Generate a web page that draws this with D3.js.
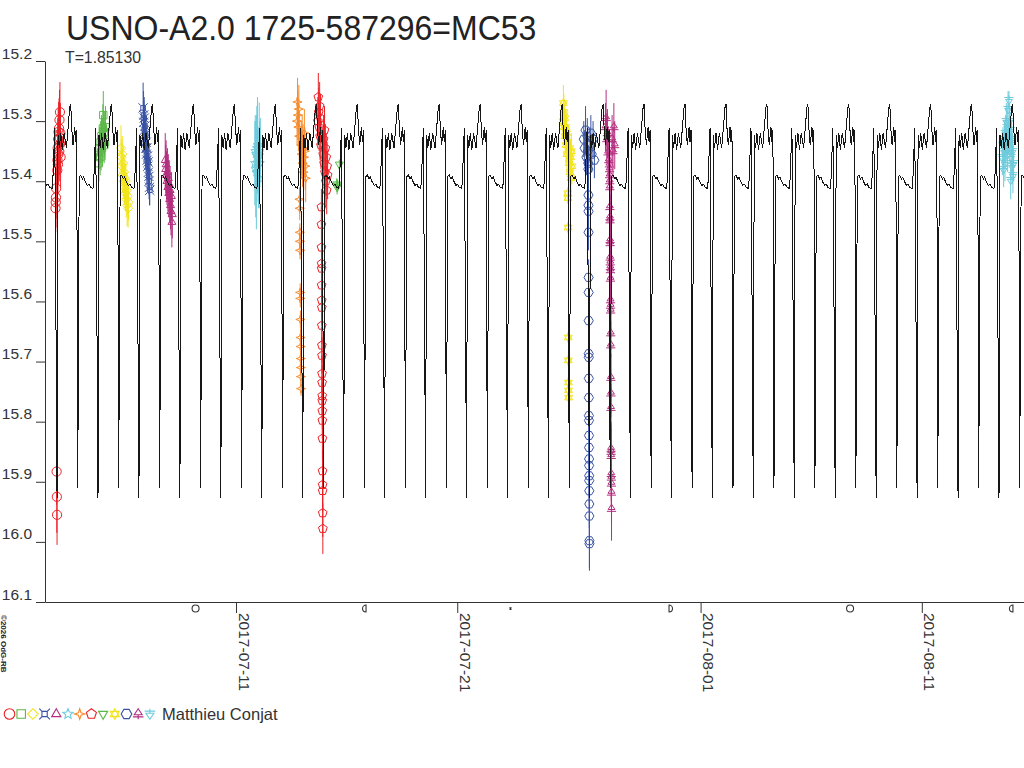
<!DOCTYPE html>
<html>
<head>
<meta charset="utf-8">
<script src="https://cdn.jsdelivr.net/npm/d3@7"></script>
<style>
  body { margin: 0; background: #fff; }
  svg { display: block; font-family: "Liberation Sans", Arial, sans-serif; }
</style>
</head>
<body>
<div id="vis"></div>
<script>
// times are days since 2017-07-01 00:00 UTC
const xDomainDays = [1.365, 45.62];
const yDomain = [15.2, 16.1];
const yTicks = [15.2, 15.3, 15.4, 15.5, 15.6, 15.7, 15.8, 15.9, 16.0, 16.1];
const xTickDates = ['2017-07-11', '2017-07-21', '2017-08-01', '2017-08-11'];

// model light curve, one cycle (phase, mag)
const period = 1.85130;
const curveEpoch = 30.298;
const curvePhase = [0, .024, .056, .098, .122, .146, .171, .207, .244, .285, .317, .354, .407, .451,
  .488, .544, .561, .610, .666, .690, .720, .756, .793, .837, .895, .934, .976];
const curveMag = [15.272, 15.312, 15.340, 15.310, 15.335, 15.315, 15.910, 15.392, 15.390, 15.396,
  15.393, 15.400, 15.407, 15.405, 15.410, 15.412, 15.402, 15.312, 15.927, 15.323, 15.345, 15.320,
  15.348, 15.320, 15.345, 15.312, 15.277];

// observations [t, mag, err], one array per night
const obs01 = [[1.84,15.445,0.058],[1.85,15.435,0.05],[1.86,15.427,0.05],[1.87,15.412,0.05],[1.89,15.883,0.055],
  [1.90,15.925,0.06],[1.91,15.955,0.05],[1.92,15.382,0.05],[1.93,15.365,0.05],[1.94,15.345,0.05],[1.95,15.372,0.05],
  [1.96,15.33,0.05],[1.97,15.355,0.05],[1.98,15.318,0.05],[1.99,15.34,0.05],[2.00,15.312,0.05],[2.01,15.35,0.05],
  [2.02,15.298,0.05],[2.03,15.328,0.05],[2.04,15.285,0.05],[2.05,15.338,0.05],[2.06,15.32,0.05],[2.07,15.36,0.05]];
const obs02 = [[3.80,15.37,0.03],[3.83,15.345,0.035],[3.86,15.36,0.03],[3.88,15.335,0.035],[3.90,15.352,0.03],
  [3.92,15.325,0.035],[3.94,15.345,0.03],[3.96,15.33,0.035],[3.98,15.312,0.04],[4.00,15.29,0.04],[4.02,15.318,0.035],
  [4.04,15.34,0.03],[4.06,15.32,0.035],[4.08,15.335,0.03],[4.10,15.31,0.035]];
const obs03 = [[4.80,15.345,0.038],[4.82,15.36,0.03],[4.84,15.375,0.03],[4.86,15.355,0.03],[4.88,15.39,0.03],
  [4.90,15.37,0.03],[4.92,15.40,0.03],[4.94,15.385,0.03],[4.96,15.41,0.03],[4.98,15.395,0.03],[5.00,15.42,0.03],
  [5.02,15.40,0.03],[5.04,15.43,0.03],[5.06,15.415,0.03],[5.08,15.44,0.035],[5.10,15.425,0.03],[5.12,15.445,0.032],
  [5.14,15.435,0.03]];
const obs04 = [[5.80,15.278,0.042],[5.82,15.29,0.04],[5.83,15.302,0.035],[5.85,15.295,0.035],[5.86,15.315,0.035],
  [5.88,15.308,0.035],[5.89,15.33,0.03],[5.91,15.322,0.03],[5.92,15.345,0.03],[5.94,15.335,0.03],[5.95,15.355,0.03],
  [5.97,15.345,0.03],[5.98,15.365,0.03],[6.00,15.358,0.03],[6.01,15.375,0.03],[6.03,15.368,0.03],[6.04,15.385,0.03],
  [6.06,15.392,0.03],[6.07,15.40,0.03],[6.09,15.41,0.03],[6.10,15.415,0.025]];
const obs05 = [[6.80,15.365,0.045],[6.82,15.38,0.04],[6.84,15.372,0.04],[6.86,15.39,0.04],[6.88,15.40,0.04],
  [6.90,15.385,0.04],[6.92,15.41,0.04],[6.94,15.395,0.04],[6.96,15.42,0.04],[6.98,15.405,0.04],[7.00,15.43,0.04],
  [7.02,15.415,0.04],[7.04,15.44,0.04],[7.06,15.45,0.04],[7.08,15.425,0.04],[7.10,15.468,0.042],[7.12,15.455,0.04]];
const obs06 = [[10.85,15.37,0.07],[10.87,15.35,0.06],[10.89,15.38,0.08],[10.90,15.355,0.05],[10.92,15.385,0.095],
  [10.94,15.345,0.07],[10.96,15.37,0.05],[10.97,15.34,0.08],[10.99,15.375,0.06],[11.00,15.36,0.05],[11.02,15.395,0.05],
  [11.05,15.357,0.088],[11.06,15.35,0.05],[11.08,15.37,0.04],[11.10,15.345,0.05]];
const obs07 = [[12.76,15.30,0.04],[12.78,15.268,0.04],[12.80,15.29,0.04],[12.82,15.31,0.04],[12.84,15.28,0.04],
  [12.86,15.325,0.04],[12.87,15.43,0.02],[12.88,15.445,0.02],[12.885,15.485,0.015],[12.89,15.50,0.015],
  [12.895,15.515,0.015],[12.90,15.585,0.015],[12.905,15.595,0.015],[12.91,15.63,0.015],[12.915,15.66,0.015],
  [12.92,15.675,0.015],[12.925,15.695,0.015],[12.93,15.71,0.015],[12.935,15.725,0.015],[12.94,15.745,0.012],
  [12.95,15.34,0.04],[12.97,15.355,0.04],[12.99,15.33,0.04],[13.01,15.37,0.04],[13.03,15.345,0.04],
  [13.05,15.385,0.04],[13.07,15.36,0.04],[13.09,15.32,0.04],[13.11,15.35,0.04],[13.13,15.375,0.04],[13.15,15.395,0.04]];
const obs08 = [[13.70,15.30,0.04],[13.72,15.26,0.04],[13.74,15.285,0.04],[13.76,15.31,0.04],[13.78,15.275,0.04],
  [13.80,15.325,0.04],[13.82,15.295,0.04],[13.84,15.34,0.04],[13.86,15.443,0.03],[13.862,15.472,0.03],
  [13.865,15.51,0.03],[13.868,15.537,0.03],[13.87,15.545,0.03],[13.872,15.573,0.03],[13.875,15.598,0.03],
  [13.878,15.61,0.03],[13.88,15.64,0.03],[13.883,15.673,0.03],[13.886,15.69,0.03],[13.889,15.72,0.03],
  [13.892,15.735,0.03],[13.895,15.757,0.03],[13.898,15.765,0.03],[13.90,15.782,0.03],[13.903,15.798,0.03],
  [13.906,15.828,0.035],[13.91,15.882,0.035],[13.913,15.905,0.035],[13.916,15.915,0.035],[13.92,15.952,0.04],
  [13.925,15.978,0.042],[13.94,15.355,0.04],[13.96,15.33,0.04],[13.98,15.37,0.04],[14.00,15.315,0.04],
  [14.02,15.385,0.04],[14.04,15.345,0.04],[14.06,15.40,0.04],[14.08,15.36,0.04],[14.10,15.415,0.04],
  [14.12,15.375,0.04],[14.14,15.39,0.04]];
const obs09 = [[14.55,15.405,0.01],[14.57,15.41,0.012],[14.59,15.407,0.01],[14.67,15.372,0.008]];
const obs10 = [[24.78,15.30,0.03],[24.80,15.27,0.03],[24.82,15.285,0.03],[24.84,15.31,0.03],[24.86,15.295,0.03],
  [24.88,15.325,0.03],[24.90,15.31,0.03],[24.92,15.34,0.03],[24.94,15.32,0.03],[24.96,15.355,0.03],[24.98,15.335,0.03],
  [25.00,15.42,0.01],[25.005,15.428,0.01],[25.01,15.477,0.01],[25.015,15.66,0.01],[25.02,15.698,0.01],
  [25.025,15.735,0.01],[25.03,15.748,0.01],[25.035,15.76,0.01],[25.06,15.37,0.03],[25.08,15.345,0.03],
  [25.10,15.385,0.03],[25.12,15.36,0.03],[25.14,15.395,0.03],[25.16,15.35,0.03],[25.18,15.375,0.03]];
const obs11 = [[25.72,15.33,0.03],[25.76,15.345,0.03],[25.80,15.315,0.04],[25.84,15.36,0.03],[25.88,15.325,0.03],
  [25.90,15.35,0.03],[25.92,15.37,0.03],[25.925,15.38,0.03],[25.93,15.423,0.03],[25.932,15.44,0.03],
  [25.934,15.45,0.03],[25.936,15.485,0.03],[25.938,15.56,0.03],[25.94,15.585,0.03],[25.942,15.632,0.03],
  [25.944,15.687,0.03],[25.946,15.693,0.03],[25.948,15.728,0.03],[25.95,15.76,0.03],[25.952,15.79,0.03],
  [25.954,15.798,0.03],[25.956,15.823,0.03],[25.958,15.843,0.03],[25.96,15.862,0.035],[25.962,15.873,0.035],
  [25.964,15.89,0.035],[25.966,15.898,0.035],[25.968,15.915,0.035],[25.97,15.937,0.04],[25.972,15.957,0.04],
  [25.974,15.998,0.045],[25.976,16.003,0.045],[26.00,15.34,0.03],[26.04,15.32,0.03],[26.08,15.355,0.03],
  [26.14,15.33,0.03],[26.20,15.365,0.03]];
const obs12 = [[26.70,15.31,0.04],[26.73,15.295,0.047],[26.76,15.33,0.04],[26.79,15.32,0.04],[26.82,15.352,0.04],
  [26.85,15.365,0.04],[26.88,15.372,0.04],[26.885,15.38,0.04],[26.89,15.39,0.04],[26.893,15.40,0.04],
  [26.896,15.41,0.04],[26.90,15.443,0.04],[26.903,15.46,0.04],[26.906,15.465,0.04],[26.909,15.498,0.04],
  [26.912,15.503,0.04],[26.915,15.527,0.04],[26.918,15.535,0.04],[26.921,15.543,0.04],[26.924,15.548,0.04],
  [26.927,15.562,0.04],[26.93,15.598,0.04],[26.933,15.607,0.04],[26.936,15.615,0.04],[26.939,15.653,0.04],
  [26.942,15.673,0.04],[26.945,15.727,0.04],[26.948,15.753,0.04],[26.951,15.777,0.04],[26.954,15.845,0.045],
  [26.957,15.85,0.045],[26.96,15.857,0.045],[26.963,15.887,0.045],[26.966,15.893,0.045],[26.969,15.903,0.045],
  [26.972,15.918,0.05],[26.975,15.945,0.053],[27.00,15.33,0.04],[27.04,15.35,0.04],[27.08,15.31,0.04],
  [27.12,15.34,0.04]];
const obs13 = [[44.64,15.36,0.03],[44.67,15.34,0.03],[44.70,15.38,0.03],[44.72,15.35,0.03],[44.74,15.33,0.03],
  [44.76,15.37,0.03],[44.78,15.32,0.03],[44.80,15.345,0.03],[44.82,15.30,0.03],[44.84,15.335,0.03],
  [44.86,15.31,0.03],[44.88,15.355,0.03],[44.90,15.28,0.03],[44.92,15.325,0.03],[44.94,15.265,0.015],
  [44.96,15.30,0.03],[44.98,15.34,0.03],[45.00,15.315,0.03],[45.02,15.398,0.032],[45.04,15.36,0.03],
  [45.06,15.33,0.03],[45.08,15.375,0.03],[45.10,15.35,0.03],[45.12,15.39,0.03],[45.15,15.37,0.03]];

const series = [obs01, obs02, obs03, obs04, obs05, obs06, obs07, obs08, obs09, obs10, obs11, obs12, obs13];
const seriesColor = ['#ec2227', '#5bb848', '#f2e51c', '#3953a4', '#b32f7f', '#6dcbdc', '#f68b2c',
  '#ec2227', '#5bb848', '#f2e51c', '#3953a4', '#b32f7f', '#6dcbdc'];
const seriesSymbol = ['circle', 'square', 'diamond', 'currency', 'triangle', 'star5', 'star4',
  'pentagon', 'triangleDown', 'hexagram', 'hexagon', 'tree', 'treeDown'];
const observer = 'Matthieu Conjat';

// moon phases (UTC)
const moonDates = ['2017-07-09T04:07Z', '2017-07-16T19:26Z', '2017-07-23T09:46Z',
  '2017-07-30T15:23Z', '2017-08-07T18:11Z', '2017-08-15T01:15Z'];
const moonPhases = ['full', 'last', 'new', 'first', 'full', 'last'];

const base = Date.UTC(2017, 6, 1);
const day = t => new Date(base + t * 864e5);

const W = 1024, H = 768;
const plot = { left: 45, right: 1024, top: 61, bottom: 602 };

const svg = d3.select('#vis').append('svg').attr('width', W).attr('height', H);

const x = d3.scaleUtc().domain(xDomainDays.map(day)).range([plot.left, plot.right]);
const y = d3.scaleLinear().domain(yDomain).range([plot.top, plot.bottom]);

svg.append('clipPath').attr('id', 'plotClip')
  .append('rect')
  .attr('x', plot.left).attr('y', plot.top - 10)
  .attr('width', plot.right - plot.left).attr('height', plot.bottom - plot.top + 10);

// marker shapes
function polyPath(n, r, rot) {
  const pts = d3.range(n).map(i => {
    const a = (rot + i * 360 / n) * Math.PI / 180;
    return [r * Math.cos(a), r * Math.sin(a)];
  });
  return 'M' + pts.map(p => p[0].toFixed(2) + ',' + p[1].toFixed(2)).join('L') + 'Z';
}
function starPath(n, r1, r2, rot) {
  const pts = d3.range(n * 2).map(i => {
    const a = (rot + i * 180 / n) * Math.PI / 180;
    const r = i % 2 ? r2 : r1;
    return [r * Math.cos(a), r * Math.sin(a)];
  });
  return 'M' + pts.map(p => p[0].toFixed(2) + ',' + p[1].toFixed(2)).join('L') + 'Z';
}
const shapes = {
  circle: r => `M${-r},0a${r},${r} 0 1,0 ${2 * r},0a${r},${r} 0 1,0 ${-2 * r},0Z`,
  square: r => { const s = r * 0.8; return `M${-s},${-s}H${s}V${s}H${-s}Z`; },
  diamond: r => `M0,${-r}L${r},0L0,${r}L${-r},0Z`,
  currency: r => {
    const s = r * 0.5;
    return `M${-s},${-s}H${s}V${s}H${-s}Z` +
      `M${-s},${-s}L${-r},${-r}M${s},${-s}L${r},${-r}M${s},${s}L${r},${r}M${-s},${s}L${-r},${r}`;
  },
  triangle: r => polyPath(3, r, -90),
  star5: r => starPath(5, r, r * 0.45, -90),
  star4: r => starPath(4, r, r * 0.35, -90),
  pentagon: r => polyPath(5, r, -90),
  triangleDown: r => polyPath(3, r, 90),
  hexagram: r => polyPath(3, r, -90) + polyPath(3, r, 90),
  hexagon: r => polyPath(6, r, 0),
  tree: r => `M0,${-r}L${0.75 * r},${0.15 * r}H${-0.75 * r}Z` +
    `M${-r},${0.55 * r}H${r}M0,${0.15 * r}V${r}`,
  treeDown: r => `M0,${r}L${0.75 * r},${-0.15 * r}H${-0.75 * r}Z` +
    `M${-r},${-0.55 * r}H${r}M0,${-0.15 * r}V${-r}`
};

// observations
const $obs = svg.append('g').attr('clip-path', 'url(#plotClip)').attr('fill', 'none');
series.forEach((pts, i) => {
  const g = $obs.append('g').attr('stroke', seriesColor[i]).attr('stroke-width', 1);
  g.selectAll('line').data(pts).join('line')
    .attr('x1', d => x(day(d[0]))).attr('x2', d => x(day(d[0])))
    .attr('y1', d => y(d[1] - d[2])).attr('y2', d => y(d[1] + d[2]));
  g.selectAll('path').data(pts).join('path')
    .attr('transform', d => `translate(${x(day(d[0]))},${y(d[1])})`)
    .attr('d', shapes[seriesSymbol[i]](4.6));
});

// model curve, folded with the period
const curvePts = [];
const k0 = Math.floor((xDomainDays[0] - curveEpoch) / period) - 1;
const k1 = Math.ceil((xDomainDays[1] - curveEpoch) / period) + 1;
for (let k = k0; k <= k1; k++) {
  curvePhase.forEach((p, i) => curvePts.push({ t: curveEpoch + (k + p) * period, mag: curveMag[i] }));
}
const line = d3.line().x(d => x(day(d.t))).y(d => y(d.mag));
svg.append('path')
  .datum(curvePts)
  .attr('clip-path', 'url(#plotClip)')
  .attr('d', line)
  .attr('fill', 'none')
  .attr('stroke', '#161616')
  .attr('stroke-width', 1)
  .attr('shape-rendering', 'crispEdges');

// axes
const yAxis = d3.axisLeft(y).tickValues(yTicks).tickSize(9).tickSizeOuter(0)
  .tickPadding(4).tickFormat(d3.format('.1f'));
svg.append('g')
  .attr('transform', `translate(${plot.left},0)`)
  .call(yAxis)
  .call(g => g.selectAll('.tick text').attr('dy', null).attr('y', -3))
  .call(g => g.selectAll('text').attr('font-size', '15.5px').attr('fill', '#333').attr('font-family', null))
  .call(g => g.selectAll('path, line').attr('stroke', '#333'));

const xAxis = d3.axisBottom(x).tickValues(xTickDates.map(s => new Date(s + 'T00:00Z')))
  .tickSize(11).tickSizeOuter(0).tickFormat(d3.utcFormat('%Y-%m-%d'));
svg.append('g')
  .attr('transform', `translate(0,${plot.bottom})`)
  .call(xAxis)
  .call(g => g.selectAll('.tick text')
    .attr('transform', 'rotate(90)')
    .attr('x', 11).attr('y', -2).attr('dy', null)
    .attr('text-anchor', 'start'))
  .call(g => g.selectAll('text').attr('font-size', '15.5px').attr('fill', '#333').attr('font-family', null))
  .call(g => g.selectAll('path, line').attr('stroke', '#333'));

// moon phases under the axis
const moonShape = {
  full: 'M-3.5,0a3.5,3.5 0 1,0 7,0a3.5,3.5 0 1,0 -7,0Z',
  first: 'M-1.5,-3.5A3.5,3.5 0 0,1 -1.5,3.5Z',
  last: 'M1.5,-3.5A3.5,3.5 0 0,0 1.5,3.5Z',
  new: 'M-1,-1L1,1M1,-1L-1,1'
};
svg.append('g').selectAll('path')
  .data(moonDates.map((d, i) => ({ date: new Date(d), phase: moonPhases[i] })))
  .join('path')
  .attr('transform', d => `translate(${x(d.date)},608.5)`)
  .attr('d', d => moonShape[d.phase])
  .attr('fill', 'none')
  .attr('stroke', '#333')
  .attr('stroke-width', 1.1);

// titles
svg.append('text')
  .attr('transform', 'translate(66,40) scale(1,1.08)')
  .attr('font-size', '32px')
  .attr('fill', '#222')
  .text('USNO-A2.0 1725-587296=MC53');

svg.append('text')
  .attr('x', 65).attr('y', 63)
  .attr('font-size', '15.8px')
  .attr('fill', '#333')
  .text('T=' + period.toFixed(5));

svg.append('text')
  .attr('transform', 'translate(1,615) rotate(90)')
  .attr('font-size', '8px')
  .attr('font-weight', 'bold')
  .attr('fill', '#222')
  .text('©2026 OdG-RB');

// legend
const $legend = svg.append('g').attr('transform', 'translate(9.5,714)');
$legend.selectAll('path')
  .data(seriesSymbol)
  .join('path')
  .attr('transform', (d, i) => `translate(${i * 11.7},0)`)
  .attr('d', d => shapes[d](5.3))
  .attr('fill', 'none')
  .attr('stroke', (d, i) => seriesColor[i])
  .attr('stroke-width', 1.1);
$legend.append('text')
  .attr('x', 152.5).attr('y', 5.5)
  .attr('font-size', '16.5px')
  .attr('fill', '#333')
  .text(observer);
</script>
</body>
</html>
